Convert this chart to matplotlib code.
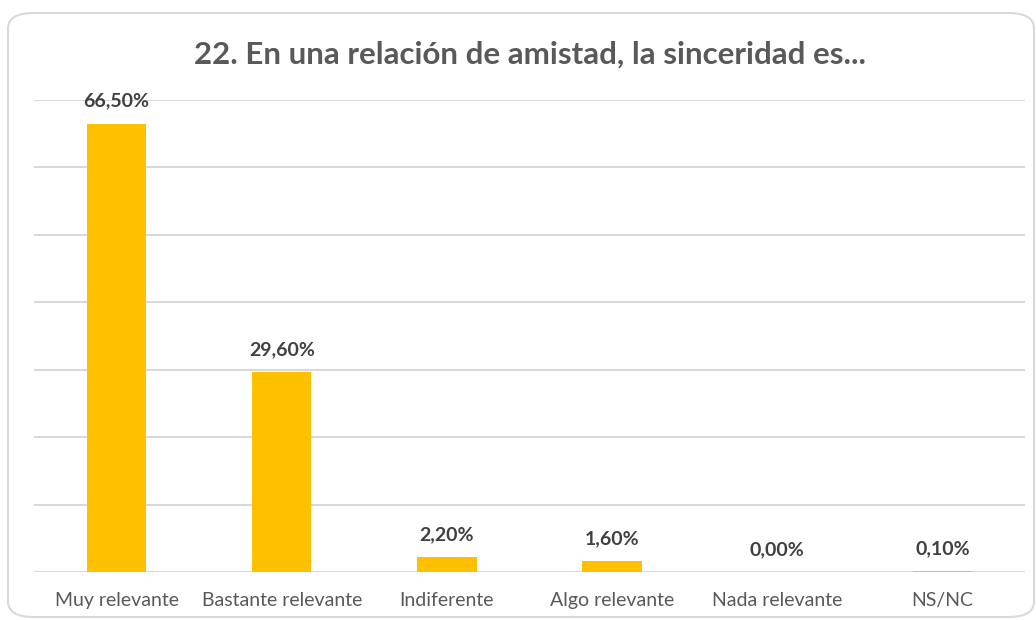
import matplotlib
matplotlib.use("Agg")
from matplotlib import pyplot as plt
from matplotlib.patches import FancyBboxPatch

# Survey answers and percentages
categories = ["Muy relevante", "Bastante relevante", "Indiferente",
              "Algo relevante", "Nada relevante", "NS/NC"]
values = [66.5, 29.6, 2.2, 1.6, 0.0, 0.1]
labels = ["66,50%", "29,60%", "2,20%", "1,60%", "0,00%", "0,10%"]
title = "22. En una relación de amistad, la sinceridad es..."

plt.rcParams['font.family'] = ['Lato', 'DejaVu Sans']

fig = plt.figure(figsize=(10.36, 6.2), dpi=100)

# rounded chart border
border = FancyBboxPatch((8 / 1036, 3 / 620), 1026 / 1036, 604 / 620,
                        boxstyle="round,pad=0,rounding_size=0.025",
                        transform=fig.transFigure, facecolor="none",
                        edgecolor="#D9D9D9", linewidth=1.5, zorder=-1)
fig.patches.append(border)

ax = fig.add_axes([34 / 1036, 1 - 572 / 620, 991 / 1036, 472 / 620])
ax.set_facecolor("none")

x = list(range(len(categories)))
ax.bar(x, values, width=0.36, color="#FFC000", zorder=3)

ax.set_xlim(-0.5, len(categories) - 0.5)
ax.set_ylim(0, 70)
ax.set_yticks(range(0, 71, 10))
ax.yaxis.grid(True, color="#D9D9D9", linewidth=1.5, zorder=0)
ax.set_axisbelow(True)
ax.tick_params(axis="y", left=False, labelleft=False)
ax.tick_params(axis="x", bottom=False, colors="#595959", labelsize=14, pad=11)
ax.set_xticks(x)
ax.set_xticklabels(categories)
for s in ax.spines.values():
    s.set_visible(False)

for xi, v, lab in zip(x, values, labels):
    ax.annotate(lab, (xi, v), xytext=(0, 10), textcoords="offset points",
                ha="center", va="bottom", fontsize=14, fontweight="bold",
                color="#404040")

fig.text(529.5 / 1036, 1 - 55 / 620, title, ha="center", va="center",
         fontsize=22.5, fontweight="bold", color="#595959")

fig.savefig("out.png", dpi=100)
